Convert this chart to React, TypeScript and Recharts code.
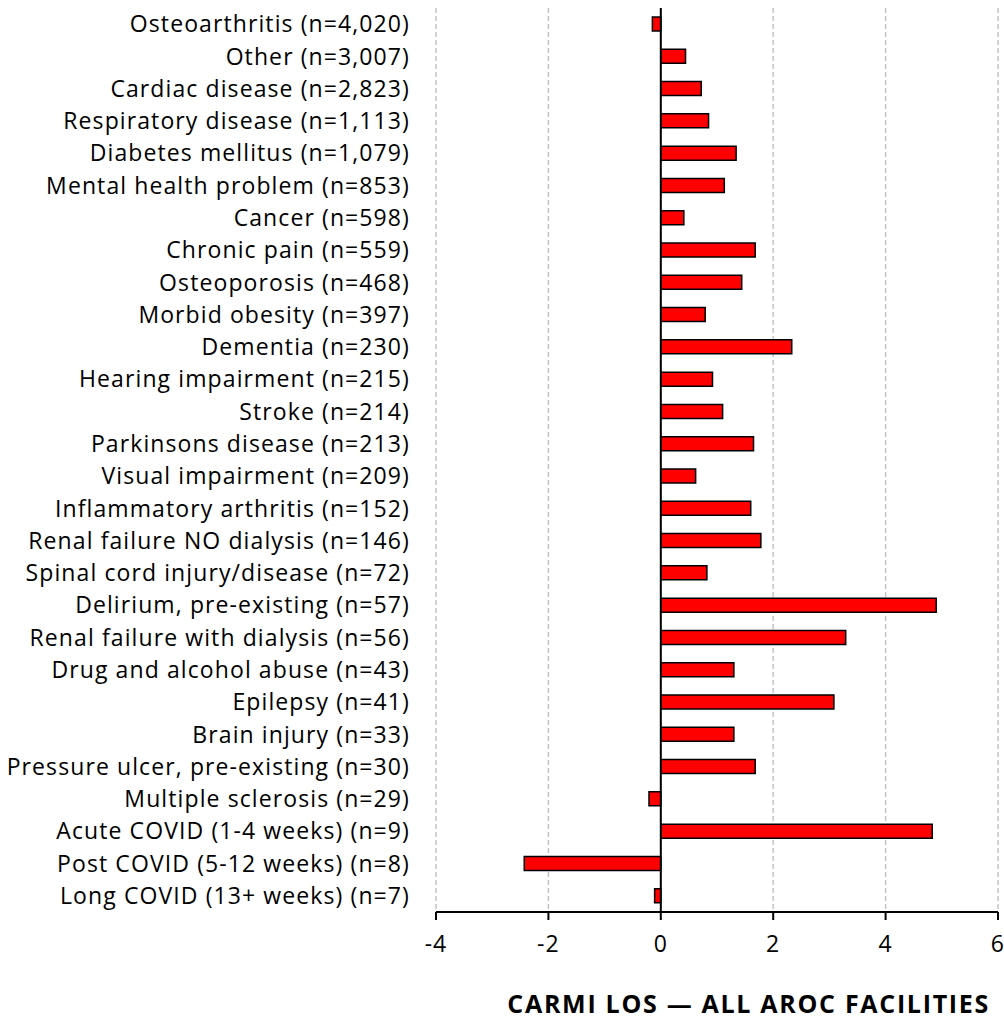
import React from 'react';
import { BarChart, Bar, XAxis, YAxis, CartesianGrid, ReferenceLine } from 'recharts';

const categories = [
  'Osteoarthritis (n=4,020)',
  'Other (n=3,007)',
  'Cardiac disease (n=2,823)',
  'Respiratory disease (n=1,113)',
  'Diabetes mellitus (n=1,079)',
  'Mental health problem (n=853)',
  'Cancer (n=598)',
  'Chronic pain (n=559)',
  'Osteoporosis (n=468)',
  'Morbid obesity (n=397)',
  'Dementia (n=230)',
  'Hearing impairment (n=215)',
  'Stroke (n=214)',
  'Parkinsons disease (n=213)',
  'Visual impairment (n=209)',
  'Inflammatory arthritis (n=152)',
  'Renal failure NO dialysis (n=146)',
  'Spinal cord injury/disease (n=72)',
  'Delirium, pre-existing (n=57)',
  'Renal failure with dialysis (n=56)',
  'Drug and alcohol abuse (n=43)',
  'Epilepsy (n=41)',
  'Brain injury (n=33)',
  'Pressure ulcer, pre-existing (n=30)',
  'Multiple sclerosis (n=29)',
  'Acute COVID (1-4 weeks) (n=9)',
  'Post COVID (5-12 weeks) (n=8)',
  'Long COVID (13+ weeks) (n=7)',
];

const losValues = [
  -0.15, 0.44, 0.72, 0.85, 1.34, 1.13, 0.41, 1.68, 1.44, 0.79, 2.33, 0.92, 1.1, 1.65,
  0.62, 1.6, 1.78, 0.82, 4.9, 3.29, 1.3, 3.08, 1.3, 1.68, -0.21, 4.83, -2.43, -0.11,
];

const xTicks = [-4, -2, 0, 2, 4, 6];

const chartTitle = 'CARMI LOS \u2014 ALL AROC FACILITIES';

const data = categories.map((c, i) => ({ label: c, value: losValues[i] }));

const FONT = '"Open Sans", "Noto Sans", sans-serif';

export default function App() {
  return (
    <div style={{ position: 'absolute', left: 0, top: 0, width: 1004, height: 1022, background: '#fff', overflow: 'hidden' }}>
      <BarChart
        width={1004}
        height={1022}
        data={data}
        layout="vertical"
        margin={{ top: 8, right: 6, left: 0, bottom: 70 }}
        barCategoryGap={0}
      >
        <CartesianGrid
          horizontal={false}
          vertical={true}
          stroke="#c4c4c4"
          strokeDasharray="5 3"
          strokeWidth={1.5}
        />
        <XAxis
          type="number"
          domain={[-4, 6]}
          ticks={xTicks}
          allowDataOverflow
          height={40}
          axisLine={{ stroke: '#000', strokeWidth: 2 }}
          tickLine={{ stroke: '#000', strokeWidth: 2 }}
          tickSize={8}
          tickMargin={16}
          tick={{ fill: '#000', fontSize: 23, fontFamily: FONT, letterSpacing: 1 }}
        />
        <YAxis
          type="category"
          dataKey="label"
          width={436}
          axisLine={false}
          tickLine={false}
          tickSize={0}
          tickMargin={26}
          interval={0}
          tick={{ fill: '#000', fontSize: 23, fontFamily: FONT, letterSpacing: 1.1 }}
        />
        <ReferenceLine x={0} stroke="#000" strokeWidth={2} />
        <Bar
          dataKey="value"
          fill="#ff0000"
          stroke="#000"
          strokeWidth={1.5}
          barSize={14}
          isAnimationActive={false}
        />
      </BarChart>
      <div
        style={{
          position: 'absolute',
          right: 14,
          top: 993,
          fontFamily: FONT,
          fontWeight: 700,
          fontSize: 25,
          letterSpacing: 1.7,
          color: '#000',
          whiteSpace: 'nowrap',
          lineHeight: '20px',
          textAlign: 'right',
        }}
      >
        {chartTitle}
      </div>
    </div>
  );
}
